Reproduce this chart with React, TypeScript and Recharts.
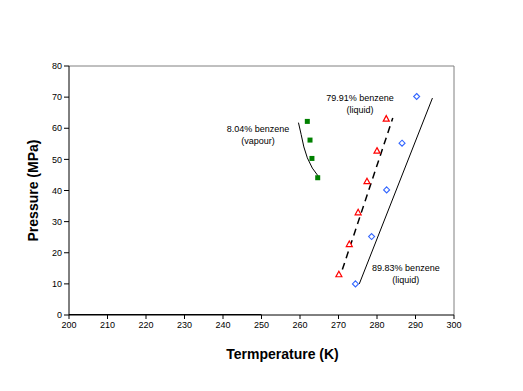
import React from 'react';
import { ScatterChart, Scatter, XAxis, YAxis, ReferenceLine, ReferenceDot } from 'recharts';

const xTicks = [200, 210, 220, 230, 240, 250, 260, 270, 280, 290, 300];
const yTicks = [0, 10, 20, 30, 40, 50, 60, 70, 80];

const vapourPoints = [
  { x: 261.9, y: 62.2 },
  { x: 262.6, y: 56.2 },
  { x: 263.1, y: 50.3 },
  { x: 264.6, y: 44.1 },
];
const vapourFit = [
  { x: 259.6, y: 61.8 },
  { x: 260.3, y: 58 },
  { x: 261.0, y: 54 },
  { x: 261.9, y: 50.5 },
  { x: 263.2, y: 47.2 },
  { x: 264.8, y: 44.5 },
];

const liquid79Points = [
  { x: 270.1, y: 13.1 },
  { x: 272.8, y: 22.8 },
  { x: 275.1, y: 33.0 },
  { x: 277.4, y: 43.0 },
  { x: 280.0, y: 52.8 },
  { x: 282.4, y: 63.1 },
];
const liquid79Fit = [
  { x: 271.0, y: 14.6 },
  { x: 284.1, y: 63.3 },
];

const liquid89Points = [
  { x: 274.4, y: 10.0 },
  { x: 278.6, y: 25.2 },
  { x: 282.5, y: 40.2 },
  { x: 286.5, y: 55.2 },
  { x: 290.3, y: 70.2 },
];
const liquid89Fit = [
  { x: 275.4, y: 10.0 },
  { x: 294.4, y: 69.7 },
];

const baseline = [
  { x: 200, y: 0 },
  { x: 250, y: 0 },
];

const annotations = [
  { x: 249.1, y: 58.8, lines: ['8.04% benzene', '(vapour)'] },
  { x: 275.6, y: 68.8, lines: ['79.91% benzene', '(liquid)'] },
  { x: 287.5, y: 14.0, lines: ['89.83% benzene', '(liquid)'] },
];

const FONT = 'Arial, "Liberation Sans", sans-serif';

const Square = (p: any) => (
  <rect x={p.cx - 2.5} y={p.cy - 2.5} width={5} height={5} fill="#008000" />
);
const Triangle = (p: any) => (
  <polygon
    points={`${p.cx},${p.cy - 3} ${p.cx + 3},${p.cy + 2.5} ${p.cx - 3},${p.cy + 2.5}`}
    fill="#fff"
    stroke="#ff0000"
    strokeWidth={1.2}
  />
);
const Diamond = (p: any) => (
  <polygon
    points={`${p.cx},${p.cy - 3} ${p.cx + 3},${p.cy} ${p.cx},${p.cy + 3} ${p.cx - 3},${p.cy}`}
    fill="#fff"
    stroke="#3366ff"
    strokeWidth={1.1}
  />
);
const NoShape = () => <g />;

const AnnotationText = (lines: string[]) => (p: any) => (
  <text x={p.cx} y={p.cy} textAnchor="middle" fontFamily={FONT} fontSize={9} fill="#000">
    {lines.map((l, i) => (
      <tspan key={i} x={p.cx} dy={i === 0 ? 0 : 12}>
        {l}
      </tspan>
    ))}
  </text>
);

export default function App() {
  return (
    <div style={{ position: 'absolute', left: 0, top: 0, background: '#fff' }}>
      <ScatterChart width={523} height={391} margin={{ top: 66, right: 69, bottom: 46, left: 29 }}>
        <XAxis
          type="number"
          dataKey="x"
          domain={[200, 300]}
          ticks={xTicks}
          interval={0}
          allowDataOverflow
          height={30}
          tickSize={4}
          tickMargin={3}
          stroke="#000"
          tick={{ fontFamily: FONT, fontSize: 9, fill: '#000' }}
          label={{
            content: (p: any) => (
              <text
                x={p.viewBox.x + p.viewBox.width / 2 + 21}
                y={p.viewBox.y + 44}
                textAnchor="middle"
                fontFamily={FONT}
                fontSize={14}
                fontWeight="bold"
                fill="#000"
              >
                Termperature (K)
              </text>
            ),
          }}
        />
        <YAxis
          type="number"
          dataKey="y"
          domain={[0, 80]}
          ticks={yTicks}
          interval={0}
          allowDataOverflow
          width={40}
          tickSize={5}
          tickMargin={2}
          stroke="#000"
          tick={{ fontFamily: FONT, fontSize: 9, fill: '#000' }}
          label={{
            content: (p: any) => {
              const cx = p.viewBox.x + 4;
              const cy = p.viewBox.y + p.viewBox.height / 2;
              return (
                <text
                  x={cx}
                  y={cy}
                  transform={`rotate(-90, ${cx}, ${cy})`}
                  textAnchor="middle"
                  dominantBaseline="central"
                  fontFamily={FONT}
                  fontSize={14}
                  fontWeight="bold"
                  fill="#000"
                >
                  Pressure (MPa)
                </text>
              );
            },
          }}
        />
        <ReferenceLine y={80} stroke="#808080" strokeWidth={1} />
        <ReferenceLine x={300} stroke="#808080" strokeWidth={1} />
        <Scatter data={baseline} line={{ stroke: '#000', strokeWidth: 2 }} shape={NoShape} isAnimationActive={false} legendType="none" />
        <Scatter data={vapourFit} line={{ stroke: '#000', strokeWidth: 1 }} shape={NoShape} isAnimationActive={false} legendType="none" />
        <Scatter
          data={liquid79Fit}
          line={{ stroke: '#000', strokeWidth: 1.5, strokeDasharray: '7 5' }}
          shape={NoShape}
          isAnimationActive={false}
          legendType="none"
        />
        <Scatter data={liquid89Fit} line={{ stroke: '#000', strokeWidth: 1 }} shape={NoShape} isAnimationActive={false} legendType="none" />
        <Scatter data={vapourPoints} shape={Square} isAnimationActive={false} />
        <Scatter data={liquid79Points} shape={Triangle} isAnimationActive={false} />
        <Scatter data={liquid89Points} shape={Diamond} isAnimationActive={false} />
        {annotations.map((a, i) => (
          <ReferenceDot key={i} x={a.x} y={a.y} r={0} shape={AnnotationText(a.lines)} />
        ))}
      </ScatterChart>
    </div>
  );
}
